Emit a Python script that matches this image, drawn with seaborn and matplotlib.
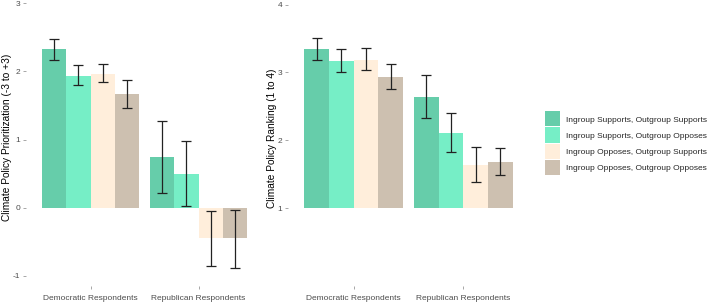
import matplotlib
matplotlib.use("Agg")
import matplotlib.pyplot as plt
import seaborn as sns
import pandas as pd
import numpy as np

respondents = ["Democratic Respondents", "Republican Respondents"]
conditions = ["Ingroup Supports, Outgroup Supports",
              "Ingroup Supports, Outgroup Opposes",
              "Ingroup Opposes, Outgroup Supports",
              "Ingroup Opposes, Outgroup Opposes"]
colors = ["#66CDAA", "#76EEC6", "#FFEEDB", "#CDC0B0"]

# Left panel: prioritization (-3 to +3); values per condition, [Dem, Rep]
prio_mean = [[2.33, 0.75], [1.94, 0.50], [1.97, -0.45], [1.67, -0.45]]
prio_lo   = [[2.17, 0.22], [1.80, 0.02], [1.84, -0.86], [1.46, -0.88]]
prio_hi   = [[2.48, 1.28], [2.09, 0.98], [2.11, -0.05], [1.88, -0.04]]

# Right panel: ranking (1 to 4)
rank_mean = [[3.35, 2.64], [3.17, 2.11], [3.19, 1.64], [2.94, 1.68]]
rank_lo   = [[3.19, 2.33], [3.01, 1.82], [3.03, 1.39], [2.75, 1.48]]
rank_hi   = [[3.51, 2.97], [3.35, 2.40], [3.36, 1.90], [3.13, 1.88]]

left_ticks = [-1, 0, 1, 2, 3]
right_ticks = [1, 2, 3, 4]
rank_base = 1


def make_df(mean, lo, hi):
    rows = []
    for i, c in enumerate(conditions):
        for j, r in enumerate(respondents):
            rows.append(dict(resp=r, cond=c, value=mean[i][j], lo=lo[i][j], hi=hi[i][j]))
    return pd.DataFrame(rows)


df_prio = make_df(prio_mean, prio_lo, prio_hi)
df_rank = make_df(rank_mean, rank_lo, rank_hi)

sns.set_theme(style="white")
plt.rcParams["font.family"] = ["Liberation Sans", "DejaVu Sans"]
plt.rcParams["axes.unicode_minus"] = False

W, H = 708, 304
fig = plt.figure(figsize=(W / 100, H / 100), dpi=100)


def px_axes(x0, x1, y0, y1):
    return fig.add_axes([x0 / W, 1 - y1 / H, (x1 - x0) / W, (y1 - y0) / H])


axL = px_axes(25.7, 263.3, 0, 286)
axR = px_axes(288, 529, 0, 286)

tick_col = "#4D4D4D"


def draw(ax, df, base, legend):
    sns.barplot(data=df, x="resp", y="value", hue="cond", order=respondents,
                hue_order=conditions, palette=colors, saturation=1, width=0.9,
                errorbar=None, linewidth=0, ax=ax, legend=legend)
    bar_containers = list(ax.containers)
    for i, cont in enumerate(bar_containers):
        sub = df[df["cond"] == conditions[i]].set_index("resp").loc[respondents]
        xs = []
        for p in cont.patches:
            if base != 0:
                h = p.get_height()
                p.set_y(base)
                p.set_height(h - base)
            xs.append(p.get_x() + p.get_width() / 2)
        xs = np.array(xs)
        ax.errorbar(xs, sub["value"].values,
                    yerr=[sub["value"].values - sub["lo"].values,
                          sub["hi"].values - sub["value"].values],
                    fmt="none", ecolor="#222222", elinewidth=0.9,
                    capsize=3.3, capthick=0.9, zorder=5)
    ax.set_xlim(-0.6, 1.6)
    ax.set_xlabel("")
    for s in ax.spines.values():
        s.set_visible(False)
    ax.tick_params(axis="both", which="both", length=2.4, width=0.6, color="#999999",
                   labelcolor=tick_col, labelsize=6.0, pad=1.5, left=True, bottom=True)
    ax.tick_params(axis="x", pad=4)


draw(axL, df_prio, 0, False)
axL.set_ylim(-1.15, 3.05)
axL.set_yticks(left_ticks)
axL.set_ylabel("Climate Policy Prioritization (-3 to +3)", fontsize=7.3, color="black")
axL.yaxis.set_label_coords(-0.0556, 0.52)

draw(axR, df_rank, rank_base, True)
axR.set_ylim(-0.151, 4.07)
axR.set_yticks(right_ticks)
axR.set_ylabel("Climate Policy Ranking (1 to 4)", fontsize=7.3, color="black")
axR.yaxis.set_label_coords(-0.0456, 0.515)

handles, labels = axR.get_legend_handles_labels()
axR.get_legend().remove()
fig.legend(handles, labels, loc="center left", bbox_to_anchor=(545 / W, 1 - 143 / H),
           bbox_transform=fig.transFigure, title=None, frameon=False,
           fontsize=6.0, handlelength=1.8, handleheight=2.4,
           labelspacing=0.12, handletextpad=0.7, borderaxespad=0, borderpad=0)

fig.savefig("out.png", dpi=100)
